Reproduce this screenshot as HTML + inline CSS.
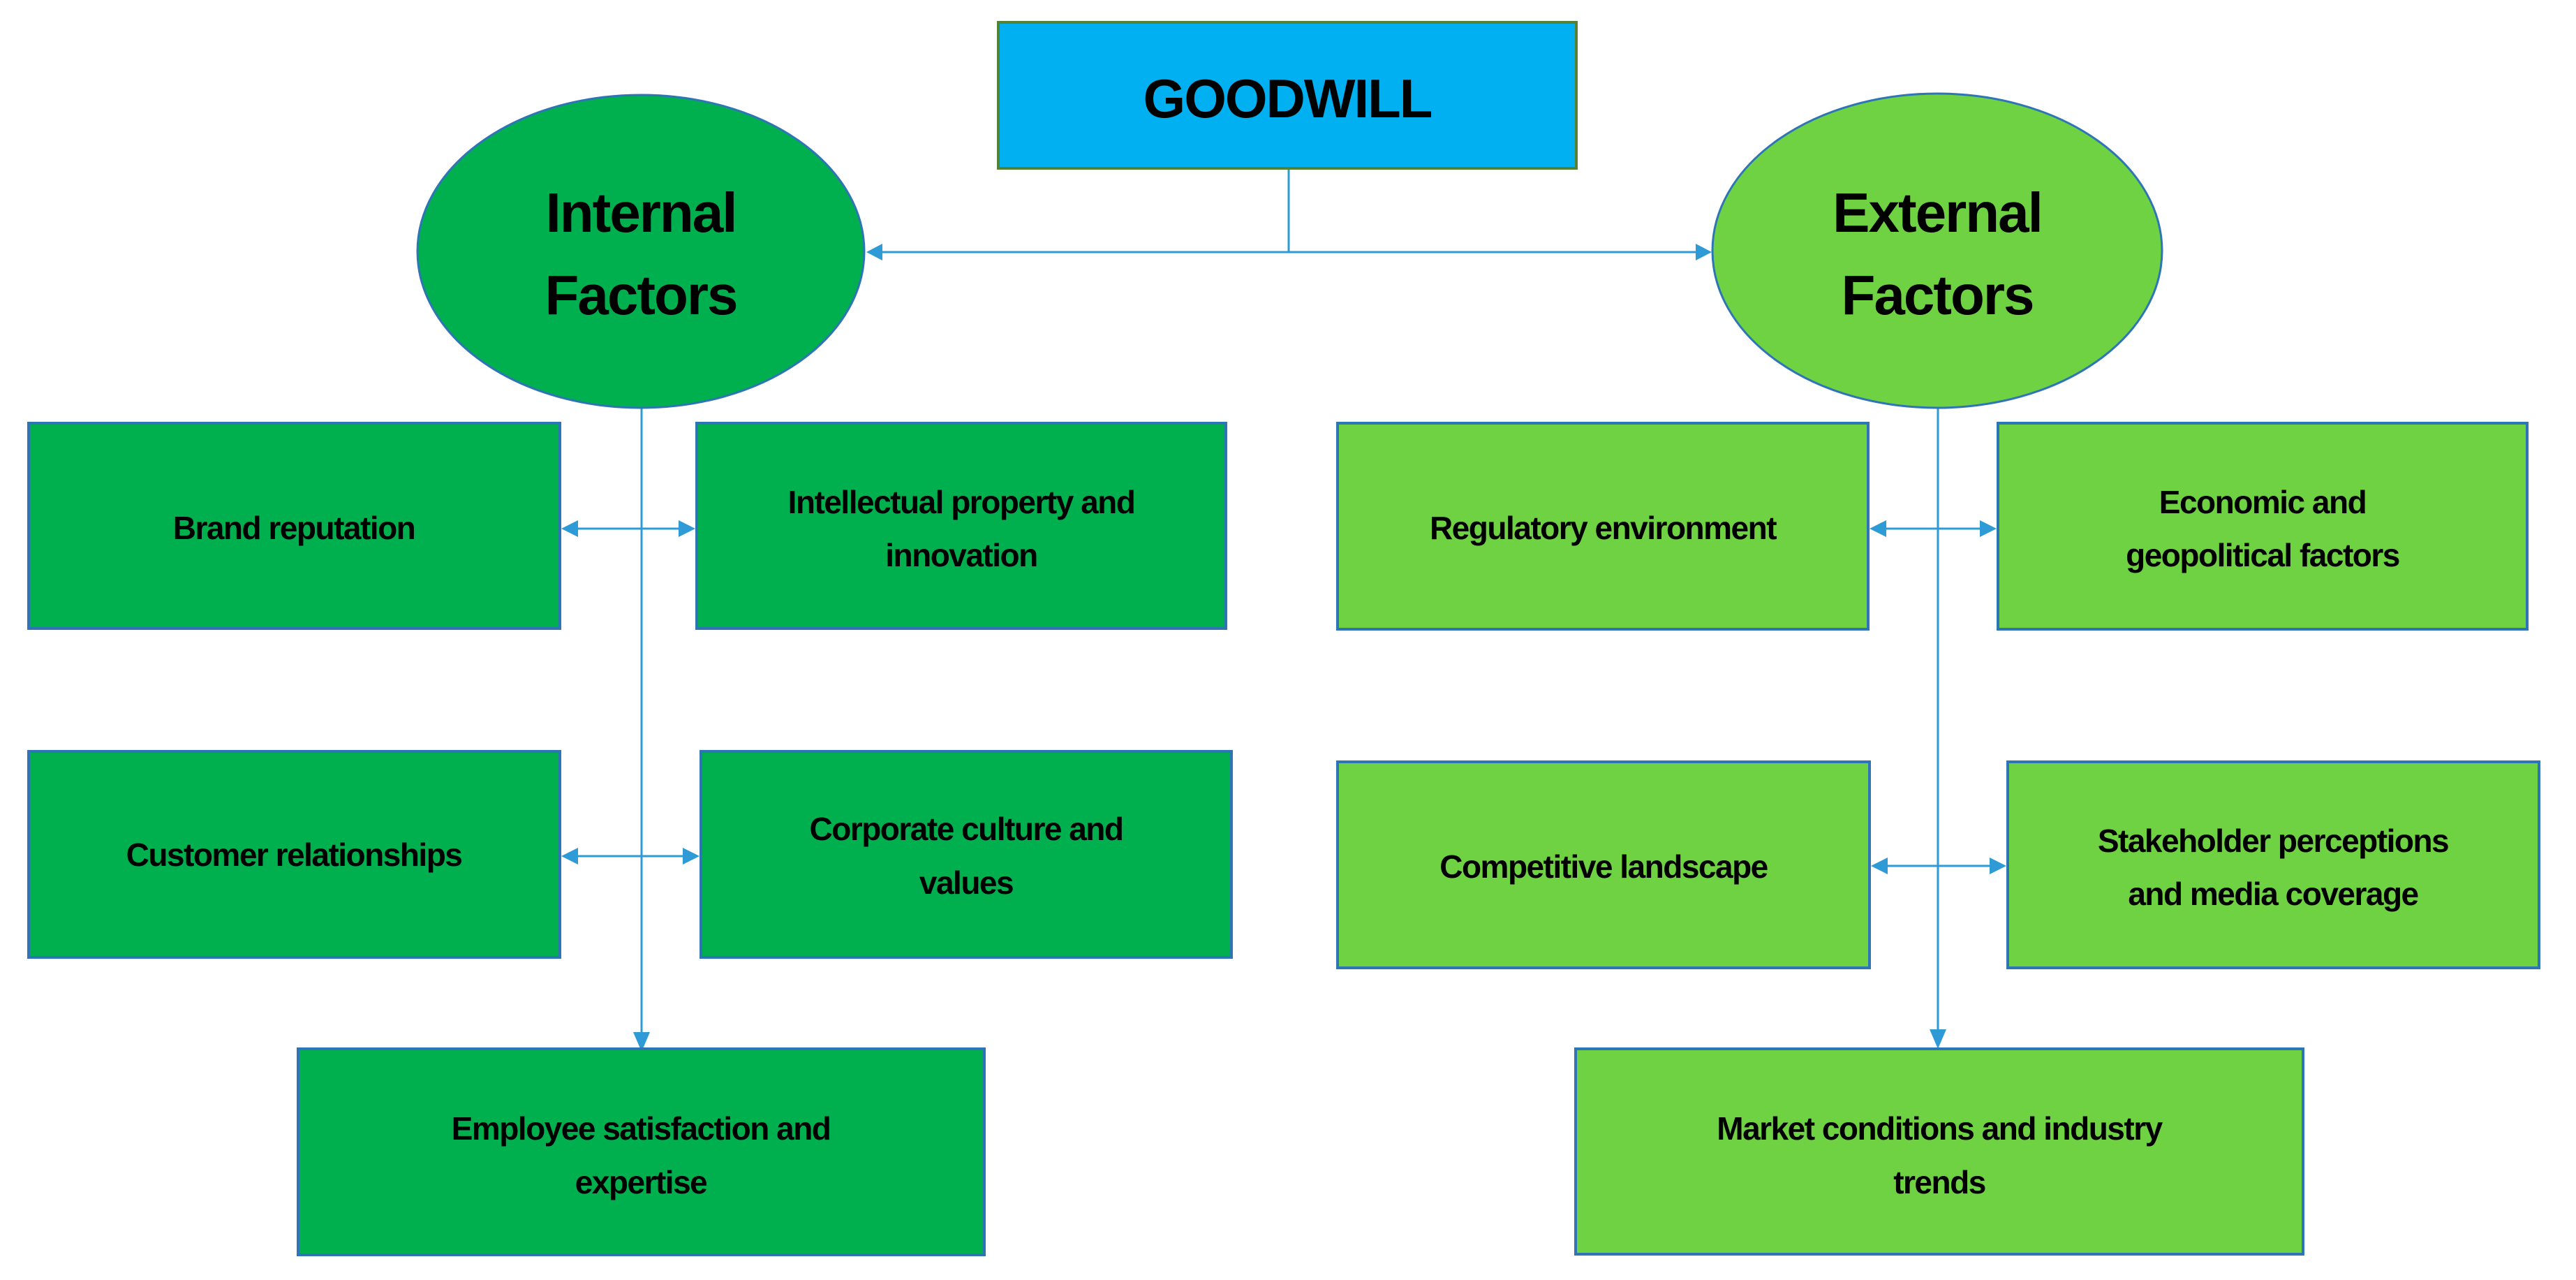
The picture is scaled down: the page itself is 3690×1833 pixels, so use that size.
<!DOCTYPE html>
<html><head><meta charset="utf-8"><style>
html,body{margin:0;padding:0;background:#fff;}
svg{display:block;}
text{font-family:"Liberation Sans",sans-serif;font-weight:bold;fill:#000;text-anchor:middle;}
.b{font-size:46px;letter-spacing:-1.5px;}
.e{font-size:80px;letter-spacing:-2px;}
</style></head><body>
<svg width="3690" height="1833" viewBox="0 0 3690 1833" xmlns="http://www.w3.org/2000/svg">
<defs>
<marker id="a" viewBox="0 0 10 10" refX="10" refY="5" markerWidth="6" markerHeight="6" markerUnits="userSpaceOnUse" orient="auto-start-reverse">
</marker>
</defs>
<g stroke="#2E9BD6" stroke-width="3" fill="none">
<line x1="1846" y1="241" x2="1846" y2="361"/>
<line x1="1262" y1="361" x2="2430" y2="361"/>
<line x1="919" y1="584" x2="919" y2="1480"/>
<line x1="2776" y1="584" x2="2776" y2="1478"/>
<line x1="826" y1="757" x2="975" y2="757"/>
<line x1="826" y1="1226" x2="980" y2="1226"/>
<line x1="2700" y1="757" x2="2838" y2="757"/>
<line x1="2702" y1="1240" x2="2852" y2="1240"/>
</g>
<g fill="#2E9BD6">
<polygon points="1241,361 1264,349 1264,373"/>
<polygon points="2452,361 2429,349 2429,373"/>
<polygon points="919,1506 907,1478 931,1478"/>
<polygon points="2776,1502 2764,1474 2788,1474"/>
<polygon points="804,757 828,745 828,769"/><polygon points="996,757 972,745 972,769"/>
<polygon points="804,1226 828,1214 828,1238"/><polygon points="1002,1226 978,1214 978,1238"/>
<polygon points="2678,757 2702,745 2702,769"/><polygon points="2860,757 2836,745 2836,769"/>
<polygon points="2680,1240 2704,1228 2704,1252"/><polygon points="2874,1240 2850,1228 2850,1252"/>
</g>
<rect x="1430" y="32" width="828" height="209" fill="#00B0F0" stroke="#548235" stroke-width="4"/>
<text x="1844" y="168" style="font-size:78px;letter-spacing:-2px">GOODWILL</text>
<ellipse cx="918" cy="360" rx="320" ry="224" fill="#00B04F" stroke="#2E75B6" stroke-width="3"/>
<text class="e" x="918" y="332">Internal</text><text class="e" x="918" y="450">Factors</text>
<ellipse cx="2775" cy="359" rx="322" ry="225" fill="#6FD243" stroke="#2E75B6" stroke-width="3"/>
<text class="e" x="2775" y="332">External</text><text class="e" x="2775" y="450">Factors</text>
<g stroke="#2E75B6" stroke-width="4">
<rect x="41" y="606" width="761" height="294" fill="#00B04F"/>
<rect x="998" y="606" width="758" height="294" fill="#00B04F"/>
<rect x="41" y="1076" width="761" height="295" fill="#00B04F"/>
<rect x="1004" y="1076" width="760" height="295" fill="#00B04F"/>
<rect x="427" y="1502" width="983" height="295" fill="#00B04F"/>
<rect x="1916" y="606" width="760" height="295" fill="#6FD243"/>
<rect x="2862" y="606" width="758" height="295" fill="#6FD243"/>
<rect x="1916" y="1091" width="762" height="295" fill="#6FD243"/>
<rect x="2876" y="1091" width="761" height="295" fill="#6FD243"/>
<rect x="2257" y="1502" width="1042" height="294" fill="#6FD243"/>
</g>
<text class="b" x="421" y="772">Brand reputation</text>
<text class="b" x="1377" y="735">Intellectual property and</text>
<text class="b" x="1377" y="811">innovation</text>
<text class="b" x="421" y="1240">Customer relationships</text>
<text class="b" x="1384" y="1203">Corporate culture and</text>
<text class="b" x="1384" y="1280">values</text>
<text class="b" x="918" y="1632">Employee satisfaction and</text>
<text class="b" x="918" y="1709">expertise</text>
<text class="b" x="2296" y="772">Regulatory environment</text>
<text class="b" x="3241" y="735">Economic and</text>
<text class="b" x="3241" y="811">geopolitical factors</text>
<text class="b" x="2297" y="1257">Competitive landscape</text>
<text class="b" x="3256" y="1220">Stakeholder perceptions</text>
<text class="b" x="3256" y="1296">and media coverage</text>
<text class="b" x="2778" y="1632">Market conditions and industry</text>
<text class="b" x="2778" y="1709">trends</text>
</svg>
</body></html>
